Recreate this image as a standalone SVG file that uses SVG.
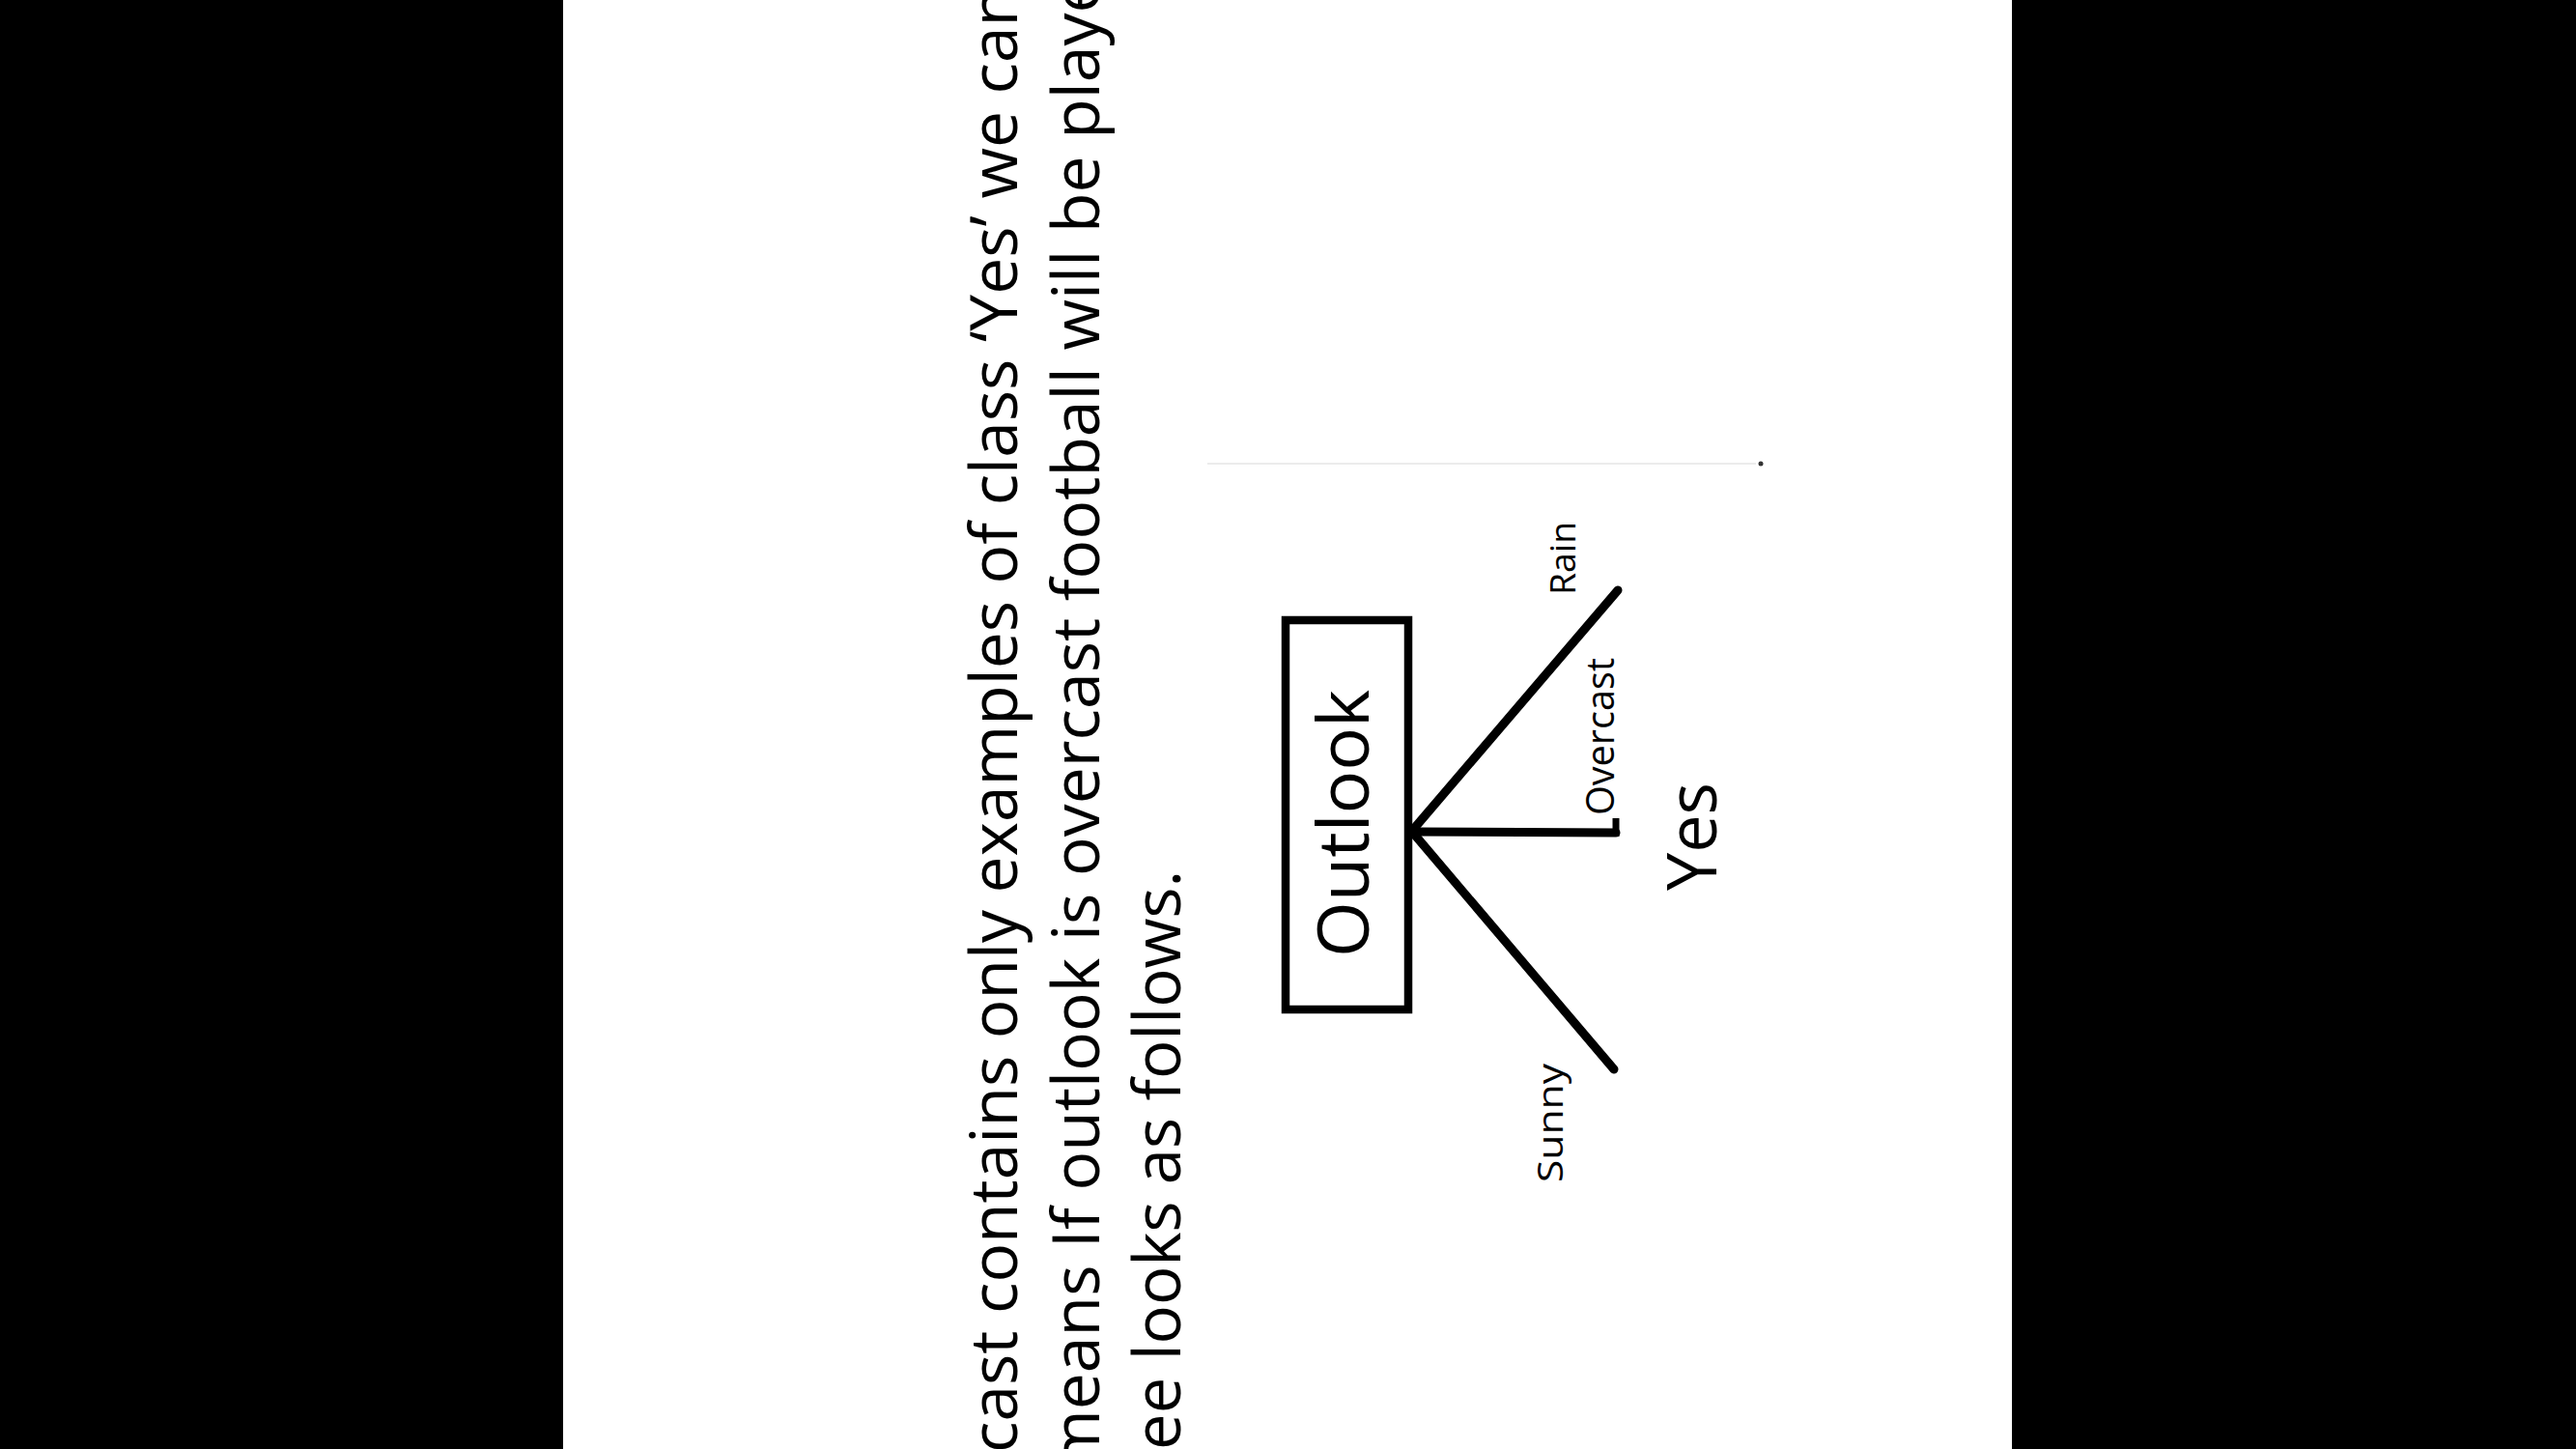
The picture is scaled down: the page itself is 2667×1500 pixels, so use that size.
<svg xmlns="http://www.w3.org/2000/svg" width="2667" height="1500" viewBox="0 0 2667 1500">
  <style>
    .body { font-family: "Open Sans", "Liberation Sans", sans-serif; fill: #000; }
    .edge { stroke: #000; stroke-width: 9; fill: none; stroke-linecap: round; }
  </style>
  <rect x="0" y="0" width="2667" height="1500" fill="#ffffff"/>
  <rect x="0" y="0" width="583" height="1500" fill="#000000"/>
  <rect x="2083" y="0" width="584" height="1500" fill="#000000"/>

  <g id="paragraph">
    <text class="body" font-size="68" transform="translate(1053,1504) rotate(-90)" textLength="1518" lengthAdjust="spacingAndGlyphs">cast contains only examples of class ‘Yes’ we can</text>
    <text class="body" font-size="68" transform="translate(1138,1522) rotate(-90)" textLength="1588" lengthAdjust="spacingAndGlyphs">means If outlook is overcast football will be played</text>
    <text class="body" font-size="68" transform="translate(1222,1501) rotate(-90)" textLength="600" lengthAdjust="spacingAndGlyphs">ee looks as follows.</text>
  </g>

  <line x1="1250" y1="480" x2="1818" y2="480" stroke="#ececec" stroke-width="2"/>
  <circle cx="1823" cy="480" r="2.5" fill="#333"/>

  <g id="outlook">
    <rect x="1331" y="642" width="127" height="403" fill="#fff" stroke="#000" stroke-width="8.5"/>
    <text class="body" font-size="74" transform="translate(1417,991) rotate(-90)" textLength="277" lengthAdjust="spacingAndGlyphs">Outlook</text>
  </g>

  <g id="connectors">
    <line class="edge" x1="1462" y1="860" x2="1675" y2="611"/>
    <line class="edge" x1="1462" y1="861" x2="1673" y2="862"/>
    <line x1="1673" y1="847" x2="1673" y2="866" stroke="#000" stroke-width="7"/>
    <line class="edge" x1="1462" y1="861" x2="1671" y2="1107"/>
  </g>

  <g id="label-rain">
    <text class="body" font-size="36" transform="translate(1631,616) rotate(-90)" textLength="76" lengthAdjust="spacingAndGlyphs">Rain</text>
  </g>
  <g id="label-overcast">
    <text class="body" font-size="40" transform="translate(1671,844) rotate(-90)" textLength="163" lengthAdjust="spacingAndGlyphs">Overcast</text>
  </g>
  <g id="label-sunny">
    <text class="body" font-size="37" transform="translate(1618,1224) rotate(-90)" textLength="123" lengthAdjust="spacingAndGlyphs">Sunny</text>
  </g>
  <g id="yes">
    <text class="body" font-size="72" transform="translate(1777,922) rotate(-90)" textLength="112" lengthAdjust="spacingAndGlyphs">Yes</text>
  </g>
</svg>
